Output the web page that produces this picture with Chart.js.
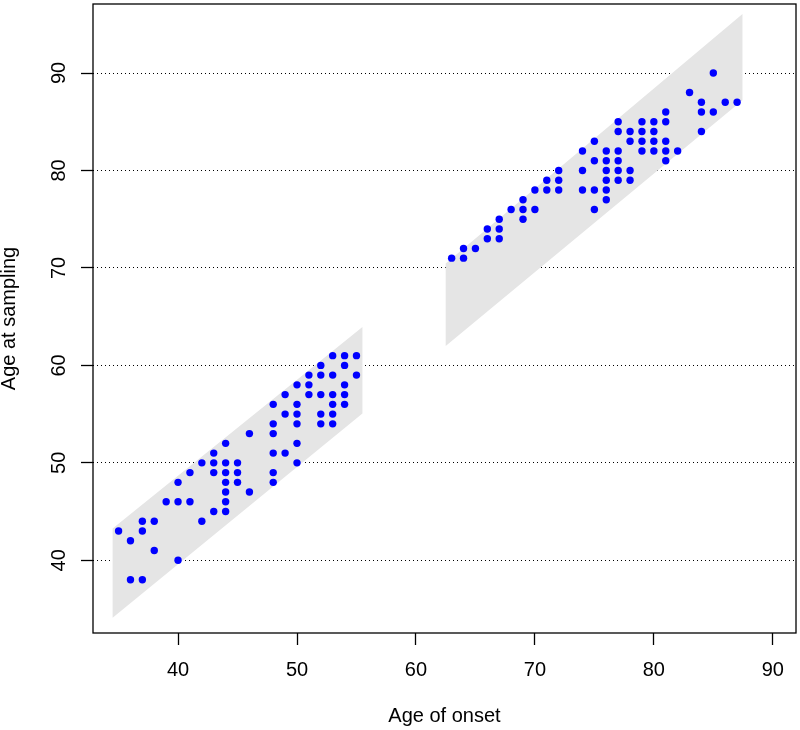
<!DOCTYPE html>
<html>
<head>
<meta charset="utf-8">
<script src="https://cdn.jsdelivr.net/npm/chart.js@4.4.1/dist/chart.umd.min.js"></script>
<style>
  html, body { margin: 0; padding: 0; background: #fff; }
</style>
</head>
<body>
<canvas id="myChart" width="800" height="730"></canvas>
<script>
// points: age of onset vs age at sampling
const onsetAge = [
  35, 36, 36, 37, 37, 37, 38, 38, 39, 40, 40, 40, 41, 41, 42, 42,
  43, 43, 43, 43, 44, 44, 44, 44, 44, 44, 44, 45, 45, 45, 46, 46,
  48, 48, 48, 48, 48, 48, 49, 49, 49, 50, 50, 50, 50, 50, 50,
  51, 51, 51, 52, 52, 52, 52, 52, 53, 53, 53, 53, 53, 53,
  54, 54, 54, 54, 54, 55, 55,
  63, 64, 64, 65, 66, 66, 67, 67, 67, 68, 69, 69, 69, 70, 70, 71, 71,
  72, 72, 72, 74, 74, 74, 75, 75, 75, 75, 76, 76, 76, 76, 76, 76,
  77, 77, 77, 77, 77, 77, 78, 78, 78, 78, 79, 79, 79, 79,
  80, 80, 80, 80, 81, 81, 81, 81, 81, 82, 83, 84, 84, 84, 85, 85, 86, 87
];
const samplingAge = [
  43, 42, 38, 44, 43, 38, 44, 41, 46, 48, 46, 40, 49, 46, 50, 44,
  51, 50, 49, 45, 52, 50, 49, 48, 47, 46, 45, 50, 49, 48, 53, 47,
  56, 54, 53, 51, 49, 48, 57, 55, 51, 58, 56, 55, 54, 52, 50,
  59, 58, 57, 60, 59, 57, 55, 54, 61, 59, 57, 56, 55, 54,
  61, 60, 58, 57, 56, 61, 59,
  71, 72, 71, 72, 74, 73, 75, 74, 73, 76, 77, 76, 75, 78, 76, 79, 78,
  80, 79, 78, 82, 80, 78, 83, 81, 78, 76, 82, 81, 80, 79, 78, 77,
  85, 84, 82, 81, 80, 79, 84, 83, 80, 79, 85, 84, 83, 82,
  85, 84, 83, 82, 86, 85, 83, 82, 81, 82, 88, 87, 86, 84, 90, 86, 87, 87
];

// grey bands (corner points)
const earlyBandOnset = [34.5, 34.5, 55.5, 55.5];
const earlyBandSampling = [34.1, 43.25, 63.95, 55.05];
const lateBandOnset = [62.5, 62.5, 87.45, 87.45];
const lateBandSampling = [62.0, 70.45, 96.05, 87.2];

const xTicks = [40, 50, 60, 70, 80, 90];
const yTicks = [40, 50, 60, 70, 80, 90];

const toPoints = (xs, ys) => xs.map((x, i) => ({ x: x, y: ys[i] }));

const fontFamily = "'Liberation Sans', Arial, sans-serif";

// box around plot area, like R
const boxPlugin = {
  id: "box",
  afterDraw(chart) {
    const { ctx, chartArea } = chart;
    ctx.save();
    ctx.strokeStyle = "#000";
    ctx.lineWidth = 1.3;
    ctx.strokeRect(chartArea.left, chartArea.top,
      chartArea.right - chartArea.left, chartArea.bottom - chartArea.top);
    ctx.restore();
  },
};

new Chart("myChart", {
  type: "scatter",
  data: {
    datasets: [
      {
        data: toPoints(onsetAge, samplingAge),
        pointRadius: 3.7,
        pointBorderWidth: 0,
        pointBackgroundColor: "#0000ff",
        order: 0,
      },
      {
        data: toPoints(earlyBandOnset, earlyBandSampling),
        showLine: true,
        fill: "shape",
        backgroundColor: "#e5e5e5",
        borderWidth: 0,
        pointRadius: 0,
        order: 1,
      },
      {
        data: toPoints(lateBandOnset, lateBandSampling),
        showLine: true,
        fill: "shape",
        backgroundColor: "#e5e5e5",
        borderWidth: 0,
        pointRadius: 0,
        order: 1,
      },
    ],
  },
  options: {
    responsive: false,
    animation: false,
    devicePixelRatio: 1,
    layout: { padding: { top: 4, right: 3, left: 0, bottom: 0 } },
    plugins: {
      legend: { display: false },
      tooltip: { enabled: false },
    },
    scales: {
      x: {
        type: "linear",
        min: 32.85,
        max: 91.95,
        afterBuildTicks: (s) => { s.ticks = xTicks.map((v) => ({ value: v })); },
        afterFit: (s) => {
          s.height = 97;
          s.paddingLeft = 0;
          s.paddingRight = 0;
        },
        grid: {
          drawOnChartArea: false,
          tickLength: 12,
          tickColor: "#000",
          tickWidth: 1.3,
          tickBorderDash: [],
        },
        border: { display: false },
        ticks: {
          color: "#000",
          font: { family: fontFamily, size: 20 },
          padding: 13,
          maxRotation: 0,
        },
        title: {
          display: true,
          text: "Age of onset",
          color: "#000",
          font: { family: fontFamily, size: 20 },
          padding: { top: 0, bottom: 2 },
        },
      },
      y: {
        type: "linear",
        min: 32.54,
        max: 97.08,
        afterBuildTicks: (s) => { s.ticks = yTicks.map((v) => ({ value: v })); },
        afterFit: (s) => {
          s.width = 93;
          s.paddingTop = 0;
          s.paddingBottom = 0;
        },
        grid: {
          color: "#000",
          lineWidth: 1,
          tickLength: 12,
          tickColor: "#000",
          tickWidth: 1.3,
          tickBorderDash: [],
        },
        border: { display: false, dash: [1, 3] },
        ticks: {
          color: "#000",
          font: { family: fontFamily, size: 20 },
          padding: 10,
          minRotation: 90,
          maxRotation: 90,
          crossAlign: "center",
        },
        title: {
          display: true,
          text: "Age at sampling",
          color: "#000",
          font: { family: fontFamily, size: 20, lineHeight: 0.9 },
          padding: { top: 0, bottom: 0 },
        },
      },
    },
  },
  plugins: [boxPlugin],
});
</script>
</body>
</html>
